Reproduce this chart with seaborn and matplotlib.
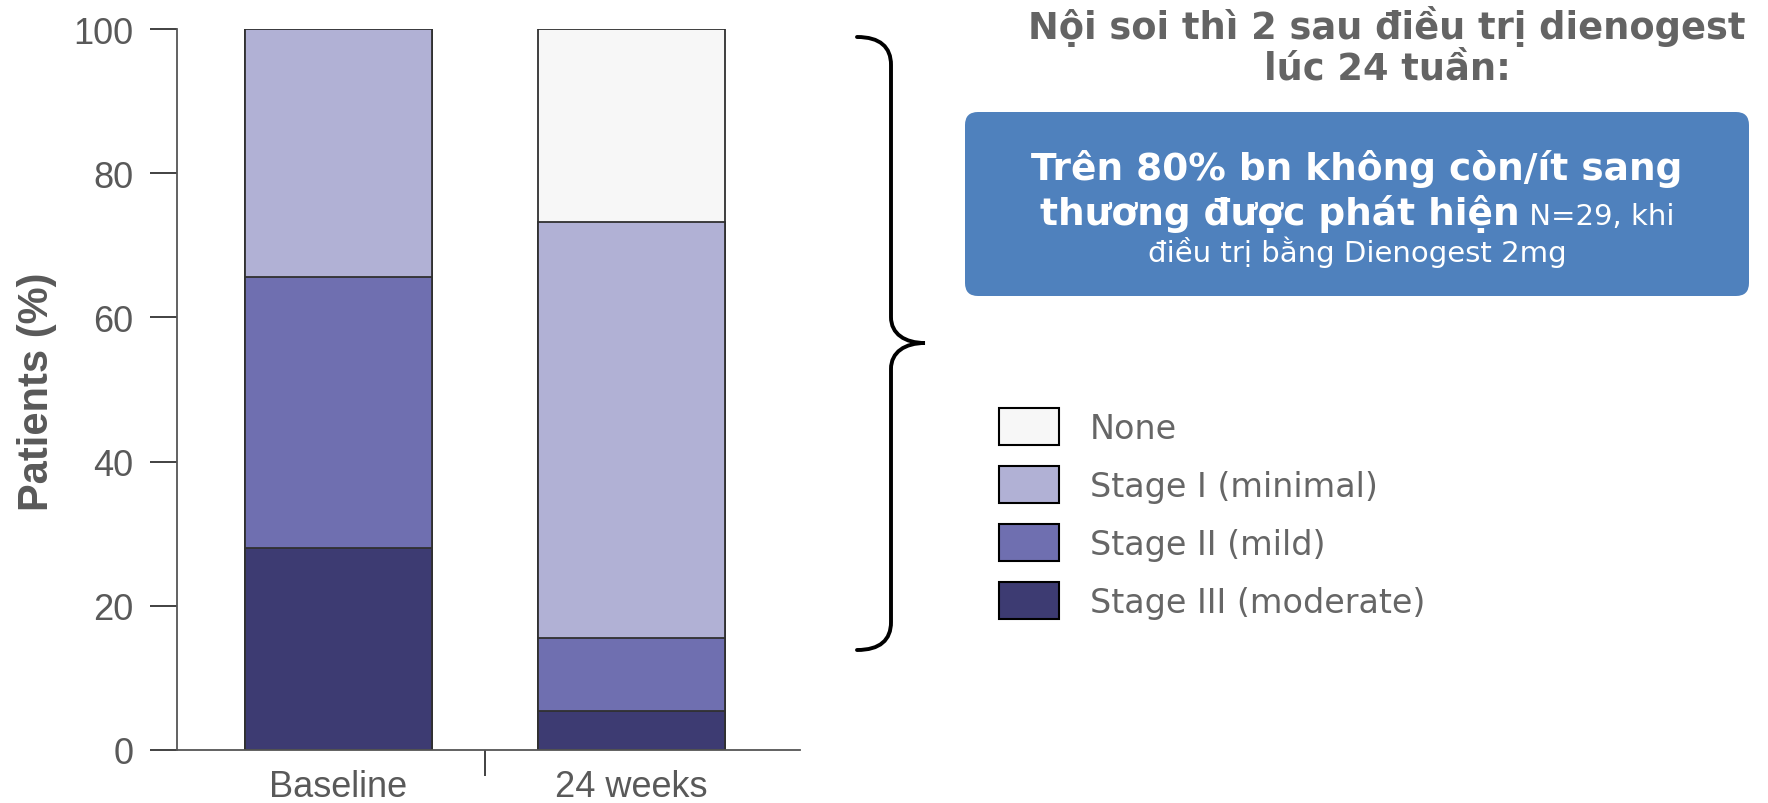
import matplotlib
matplotlib.use("Agg")
import matplotlib.pyplot as plt
import seaborn as sns
from matplotlib.patches import Patch, FancyBboxPatch, PathPatch
from matplotlib.path import Path

# Data (percent of patients per stage)
timepoints = ["Baseline", "24 weeks"]
stage_names = ["None", "Stage I (minimal)", "Stage II (mild)", "Stage III (moderate)"]
none_pct = [0.0, 26.8]
stage1_pct = [34.4, 57.7]
stage2_pct = [37.6, 10.1]
stage3_pct = [28.0, 5.4]
stage_colors = ["#F7F7F7", "#B1B1D5", "#6F6FB0", "#3D3B72"]

title_lines = ["Nội soi thì 2 sau điều trị dienogest", "lúc 24 tuần:"]
box_line1 = "Trên 80% bn không còn/ít sang"
box_line2_bold = "thương được phát hiện"
box_line2_reg = " N=29, khi"
box_line3 = "điều trị bằng Dienogest 2mg"

sns.set_style("white")
plt.rcParams["font.family"] = ["DejaVu Sans"]

W, H = 1768, 804
fig = plt.figure(figsize=(W / 100, H / 100), dpi=100)
ax = fig.add_axes([177 / W, 1 - 751 / H, 623 / W, 721 / H])

# stacked bars: draw cumulative totals from top layer down
layers = [none_pct, stage1_pct, stage2_pct, stage3_pct]
cum = []
for i in range(len(layers)):
    cum.append([sum(v) for v in zip(*layers[i:])])
for vals, col in zip(cum, stage_colors):
    sns.barplot(x=timepoints, y=vals, color=col, saturation=1, width=0.64,
                edgecolor="#303030", linewidth=1.3, ax=ax)

ax.set_xlim(-0.551, 1.575)
ax.set_ylim(0, 100)
ax.set_yticks([0, 20, 40, 60, 80, 100])
for s in ["top", "right"]:
    ax.spines[s].set_visible(False)
for s in ["left", "bottom"]:
    ax.spines[s].set_color("#555555")
    ax.spines[s].set_linewidth(1.3)

ax.tick_params(axis="y", direction="out", length=19.5, width=1.3, color="#333333",
               pad=12, labelsize=26, labelcolor="#595959", left=True)
ax.tick_params(axis="x", length=0, pad=14, labelsize=26, labelcolor="#595959")
ax.set_xticks([0.5], minor=True)
ax.tick_params(axis="x", which="minor", direction="out", length=18.5, width=1.3,
               color="#333333", bottom=True)
for lab in ax.get_xticklabels() + ax.get_yticklabels():
    lab.set_family("Liberation Sans")

ax.set_xlabel("")
ax.set_ylabel("Patients (%)", fontsize=30, fontweight="bold", color="#595959",
              family="Liberation Sans")
ax.yaxis.set_label_coords(-0.193, 0.498)

# legend
handles = [Patch(facecolor=c, edgecolor="black", linewidth=1.5) for c in stage_colors]
leg = ax.legend(handles, stage_names, loc="upper left",
                bbox_to_anchor=(999 / W, 1 - 409 / H), bbox_transform=fig.transFigure,
                frameon=False, fontsize=24, handlelength=1.8, handleheight=1.33,
                labelspacing=0.63, handletextpad=0.93, borderpad=0, borderaxespad=0)
for t in leg.get_texts():
    t.set_color("#666666")

# overlay in pixel coordinates for brace, title and callout box
ov = fig.add_axes([0, 0, 1, 1], facecolor="none")
ov.set_xlim(0, W)
ov.set_ylim(H, 0)
ov.axis("off")

verts = [(857, 38), (880, 38), (891, 48), (891, 66),
         (891, 318),
         (891, 335), (905, 344), (925, 344),
         (905, 344), (891, 353), (891, 370),
         (891, 623),
         (891, 641), (880, 651), (857, 651)]
codes = [Path.MOVETO, Path.CURVE4, Path.CURVE4, Path.CURVE4,
         Path.LINETO,
         Path.CURVE4, Path.CURVE4, Path.CURVE4,
         Path.CURVE4, Path.CURVE4, Path.CURVE4,
         Path.LINETO,
         Path.CURVE4, Path.CURVE4, Path.CURVE4]
ov.add_patch(PathPatch(Path(verts, codes), facecolor="none", edgecolor="black",
                       linewidth=2.8, capstyle="round"))

ov.text(1387, 39, title_lines[0], ha="center", va="baseline", fontsize=26.5,
        fontweight="bold", color="#646464")
ov.text(1387, 79, title_lines[1], ha="center", va="baseline", fontsize=26.5,
        fontweight="bold", color="#646464")

ov.add_patch(FancyBboxPatch((965, 113), 784, 184,
                            boxstyle="round,pad=0,rounding_size=13",
                            facecolor="#4F81BD", edgecolor="none"))
ov.text(1357, 180, box_line1, ha="center", va="baseline", fontsize=27,
        fontweight="bold", color="white")
t_b = ov.text(0, 225, box_line2_bold, ha="left", va="baseline", fontsize=27,
              fontweight="bold", color="white")
t_r = ov.text(0, 225, box_line2_reg, ha="left", va="baseline", fontsize=21,
              color="white")
ov.text(1357, 262, box_line3, ha="center", va="baseline", fontsize=21, color="white")

fig.canvas.draw()
r = fig.canvas.get_renderer()
wb = t_b.get_window_extent(r).width
wr = t_r.get_window_extent(r).width
x0 = 1357 - (wb + wr) / 2
t_b.set_x(x0)
t_r.set_x(x0 + wb)

fig.savefig("out.png", dpi=100)
